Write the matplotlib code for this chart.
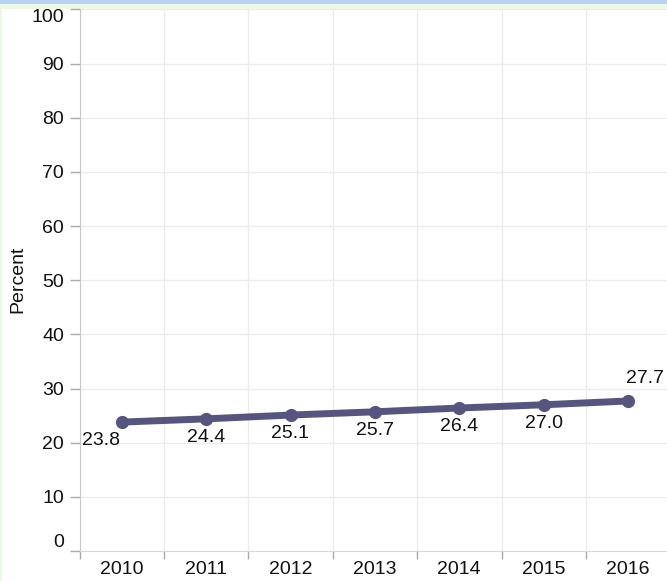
import matplotlib
matplotlib.use('Agg')
import matplotlib.pyplot as plt
from matplotlib.patches import Rectangle
import numpy as np

# data
years = ['2010', '2011', '2012', '2013', '2014', '2015', '2016']
percent = [23.8, 24.4, 25.1, 25.7, 26.4, 27.0, 27.7]
y_ticks = [0, 10, 20, 30, 40, 50, 60, 70, 80, 90, 100]

plt.rcParams['font.family'] = ['Liberation Sans', 'DejaVu Sans']
plt.rcParams['font.size'] = 14

W, H = 667, 581
fig = plt.figure(figsize=(W / 100, H / 100), dpi=100)
fig.patch.set_facecolor('#eef8e6')

# white panel and the clipped title band at the top
fig.patches.append(Rectangle((2 / W, 0), 1, (H - 9) / H, transform=fig.transFigure,
                             facecolor='white', edgecolor='none', zorder=-2))
fig.patches.append(Rectangle((0, (H - 4) / H), 1, 4 / H, transform=fig.transFigure,
                             facecolor='#b8d3f1', edgecolor='none', zorder=-2))

band = 84.4
ax = fig.add_axes([79.5 / W, 30 / H, len(years) * band / W, 541.6 / H])
ax.set_facecolor('none')
ax.set_zorder(1)

x = np.arange(len(years))
ax.set_xlim(-0.5, len(years) - 0.5)
ax.set_ylim(0, 100)

# line with points
ax.plot(x, percent, color='#55557f', lw=5, marker='o', ms=8.5,
        solid_capstyle='round', zorder=3, clip_on=False)

# value labels
for i, v in enumerate(percent):
    if i == 0:
        dx, dy = -15, -13.5
    elif i == len(percent) - 1:
        dx, dy = 12, 16.5
    else:
        dx, dy = 0, -13.3
    ax.annotate(f'{v:.1f}', (x[i], v), xytext=(dx, dy), textcoords='offset points',
                ha='center', va='center', fontsize=14, color='#111111')

# x axis: labels at band centres, ticks and grid on band edges
ax.set_xticks(x)
ax.set_xticklabels(years)
ax.set_xticks(np.arange(len(years) + 1) - 0.5, minor=True)
ax.tick_params(axis='x', which='major', length=0, pad=7, labelsize=14, labelcolor='#111111')
ax.tick_params(axis='x', which='minor', length=6, width=1, color='#aaaaaa')
ax.grid(axis='x', which='minor', color='#ececec', lw=1)

# y axis
ax.set_yticks(y_ticks)
ax.tick_params(axis='y', length=7, width=1, color='#aaaaaa', pad=4,
               labelsize=14, labelcolor='#111111')
ax.grid(axis='y', which='major', color='#ececec', lw=1)
ylabels = ax.get_yticklabels()
ylabels[0].set_va('bottom')
ylabels[-1].set_va('top')
ax.set_axisbelow(True)

for s in ['top', 'right']:
    ax.spines[s].set_visible(False)
ax.spines['left'].set_color('#c8c8c8')
ax.spines['bottom'].set_color('#d8d8d8')

fig.text(17.5 / W, 1 - 279 / H, 'Percent', rotation=90, ha='center', va='center',
         fontsize=14, color='#111111')

fig.savefig('out.png', dpi=100, facecolor=fig.get_facecolor())
